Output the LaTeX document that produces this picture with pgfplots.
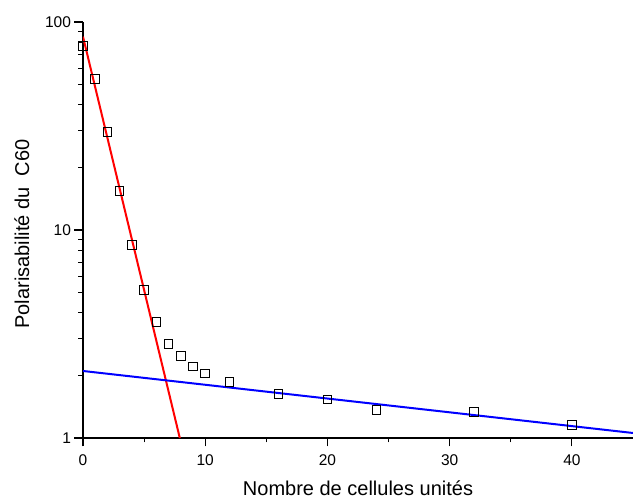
\documentclass[border=0pt]{standalone}
\usepackage{pgfplots}
\pgfplotsset{compat=1.18}
\usepackage{fontspec}
\setmainfont{Liberation Sans}
\begin{document}
\begin{tikzpicture}
\begin{axis}[
  name=ax,
  scale only axis,
  width=550pt, height=416pt,
  xmin=0, xmax=45,
  ymode=log, ymin=1, ymax=100,
  axis x line=bottom, axis y line=left,
  axis line style={-, line width=1.2pt},
  xtick pos=bottom, ytick pos=left,
  tick align=outside,
  tick style={black, line width=1.2pt},
  major tick length=8.5pt,
  minor tick length=4.5pt,
  xtick={0,10,20,30,40},
  minor x tick num=1,
  ytick={1,10,100},
  yticklabels={1,10,100},
  tick label style={font=\fontsize{15.5}{17}\selectfont},
  xticklabel shift=5pt,
  /pgf/number format/assume math mode=true,
  xlabel={Nombre de cellules unités},
  ylabel={Polarisabilité du~~C60},
  label style={font=\fontsize{20}{22}\selectfont},
  xlabel style={at={(axis description cs:0.5,-0.1394)}, anchor=base, inner sep=0pt},
  ylabel style={at={(axis description cs:-0.111,0.49)}, anchor=center},
]
\addplot[only marks, mark=square, mark size=4.3pt, mark options={line width=1pt, black}]
  coordinates {
  (0,76.7) (1,53.2) (2,29.6) (3,15.4) (4,8.47) (5,5.15) (6,3.61) (7,2.83)
  (8,2.48) (9,2.21) (10,2.04) (12,1.86) (16,1.63) (20,1.53) (24,1.36)
  (32,1.33) (40,1.155)
};
\addplot[red, line width=2pt] coordinates {(0,85) (7.92,1)};
\addplot[blue, line width=2pt] coordinates {(0,2.10) (45,1.057)};
\end{axis}
\pgfresetboundingbox
\path[use as bounding box] ([xshift=-83pt,yshift=-62pt]ax.south west) rectangle ([yshift=22pt]ax.north east);
\end{tikzpicture}
\end{document}
